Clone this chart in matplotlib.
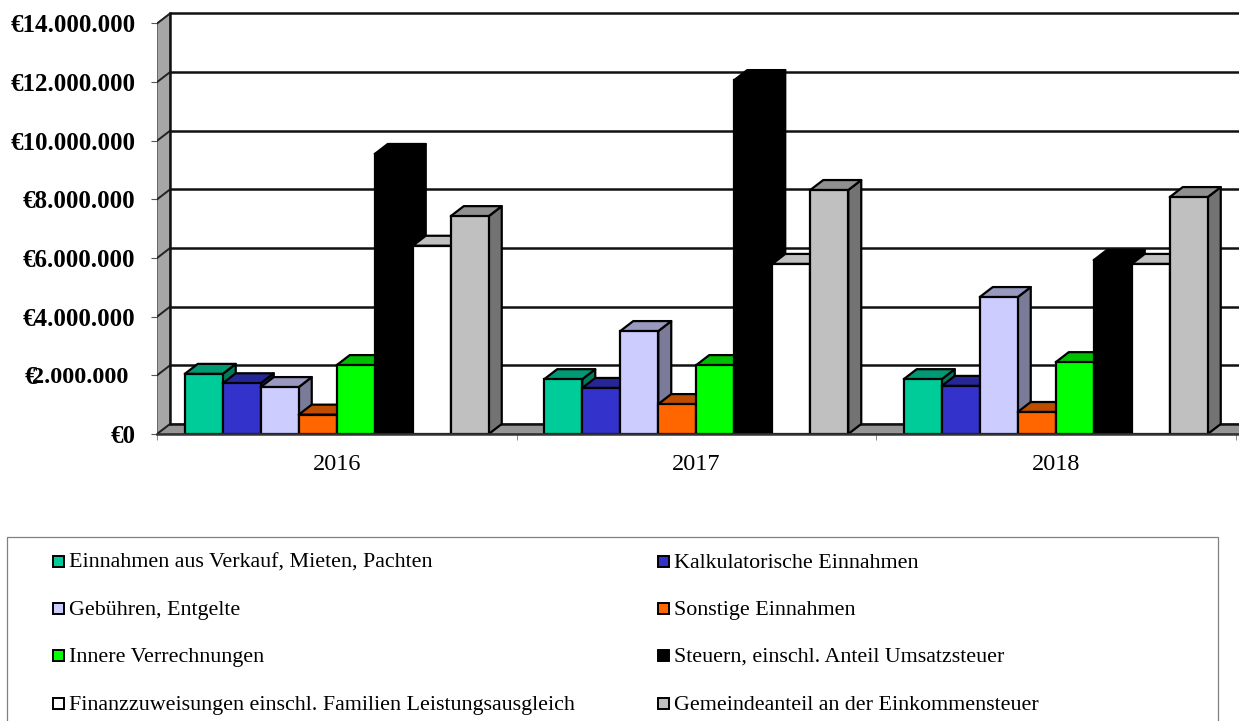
import numpy as np
import matplotlib
matplotlib.use("Agg")
import matplotlib.pyplot as plt
from matplotlib.patches import Polygon, Rectangle

plt.rcParams['font.family'] = ['Liberation Serif', 'DejaVu Serif']

years = ["2016", "2017", "2018"]
labels = ["Einnahmen aus Verkauf, Mieten, Pachten", "Kalkulatorische Einnahmen",
          "Gebühren, Entgelte", "Sonstige Einnahmen",
          "Innere Verrechnungen", "Steuern, einschl. Anteil Umsatzsteuer",
          "Finanzzuweisungen einschl. Familien Leistungsausgleich", "Gemeindeanteil an der Einkommensteuer"]

verkauf = [2050000, 1870000, 1870000]
kalkulatorisch = [1730000, 1570000, 1640000]
gebuehren = [1600000, 3510000, 4670000]
sonstige = [660000, 1020000, 750000]
verrechnungen = [2350000, 2350000, 2450000]
steuern = [9550000, 12070000, 5930000]
zuweisungen = [6420000, 5800000, 5800000]
gemeindeanteil = [7430000, 8320000, 8080000]
series = [verkauf, kalkulatorisch, gebuehren, sonstige, verrechnungen, steuern, zuweisungen, gemeindeanteil]

fronts = ["#00CC99", "#3333CC", "#CCCCFF", "#FF6600", "#00FF00", "#000000", "#FFFFFF", "#C0C0C0"]
tops = ["#009973", "#262699", "#9999BF", "#BF4D00", "#00BF00", "#000000", "#C0C0C0", "#909090"]
sides = ["#007A5C", "#1F1F7A", "#7A7A99", "#993D00", "#009900", "#000000", "#999999", "#737373"]
yticks = [0, 2000000, 4000000, 6000000, 8000000, 10000000, 12000000, 14000000]

W, H = 1239, 721
CAT_PX = 359.5
PX_PER_VAL = 410.5 / 14000000
BASE_Y = 434
LEFT_X = 157
TOP_Y = 5

dx = 13 / CAT_PX
dy = 10 / PX_PER_VAL
bar_w = 38 / CAT_PX
EDGE = 1.6


def euro(v):
    return "€" + f"{v:,.0f}".replace(",", ".")


fig = plt.figure(figsize=(W / 100, H / 100), dpi=100)
ax = fig.add_axes([LEFT_X / W, (H - BASE_Y) / H, (W - LEFT_X) / W, (BASE_Y - TOP_Y) / H])
ax.set_xlim(0, (W - LEFT_X) / CAT_PX)
ax.set_ylim(0, (BASE_Y - TOP_Y) / PX_PER_VAL)
for s in ax.spines.values():
    s.set_visible(False)

# walls of the fake 3d box
ax.add_patch(Polygon([(0, 0), (dx, dy), (dx, 14000000 + dy), (0, 14000000)], closed=True,
                     facecolor="#A6A6A6", edgecolor="#505050", lw=1.0, zorder=1))
ax.add_patch(Polygon([(0, 0), (4, 0), (4 + dx, dy), (dx, dy)], closed=True,
                     facecolor="#969696", edgecolor="#505050", lw=1.0, zorder=1))
for v in yticks:
    ax.plot([dx, 4], [v + dy, v + dy], color="#111111", lw=1.8, zorder=2, solid_capstyle="butt")
    ax.plot([0, dx], [v, v + dy], color="#222222", lw=1.4, zorder=2)
ax.plot([dx, dx], [dy, 14000000 + dy], color="#111111", lw=1.8, zorder=2)
ax.plot([0, 4], [0, 0], color="#333333", lw=1.8, zorder=900, clip_on=False)

# bars, left to right so every bar hides the side of the one before
z = 3
for c in range(len(years)):
    start = c + 0.5 - 4 * bar_w
    for i, vals in enumerate(series):
        x0 = start + i * bar_w
        x1 = x0 + bar_w
        v = vals[c]
        ax.add_patch(Polygon([(x1, 0), (x1 + dx, dy), (x1 + dx, v + dy), (x1, v)], closed=True,
                             facecolor=sides[i], edgecolor="black", lw=EDGE, zorder=z, joinstyle="round"))
        ax.add_patch(Polygon([(x0, v), (x0 + dx, v + dy), (x1 + dx, v + dy), (x1, v)], closed=True,
                             facecolor=tops[i], edgecolor="black", lw=EDGE, zorder=z, joinstyle="round"))
        ax.add_patch(Rectangle((x0, 0), bar_w, v, facecolor=fronts[i], edgecolor="black", lw=EDGE, zorder=z + 0.5))
        z += 1

ax.set_yticks(yticks)
tick_labels = [euro(v) for v in yticks]
tick_labels[1] = ""
ax.set_yticklabels(tick_labels, fontsize=18, fontweight="bold")
ax.tick_params(axis="y", length=4.5, width=0.8, color="#555555", pad=11)

# the 2.000.000 label sits on top of its euro sign in the original
ax.annotate("2.000.000", xy=(0, 2000000), xycoords=("axes fraction", "data"),
            xytext=(-20.3, 0), textcoords="offset points", ha="right", va="center_baseline",
            fontsize=17.5, fontweight="bold")
ax.annotate("€", xy=(0, 2000000), xycoords=("axes fraction", "data"),
            xytext=(-86.5, 0), textcoords="offset points", ha="right", va="center_baseline",
            fontsize=18, fontweight="bold")

ax.set_xticks([0, 1, 2, 3])
ax.set_xticklabels([])
ax.set_xticks([0.5, 1.5, 2.5], minor=True)
ax.set_xticklabels(years, minor=True, fontsize=17.5)
ax.tick_params(axis="x", which="major", length=4.5, width=0.6, color="#777777")
ax.tick_params(axis="x", which="minor", length=0, pad=14.5)

# legend box, drawn in pixel space because it runs off the bottom of the figure
leg = fig.add_axes([0, 0, 1, 1], facecolor="none")
leg.set_xlim(0, W)
leg.set_ylim(H, 0)
leg.axis("off")
leg.add_patch(Rectangle((7, 537), 1211, 190, facecolor="none", edgecolor="#808080", lw=0.9))
row_y = [561, 608, 655, 703]
col_x = [52, 657]
for i, label in enumerate(labels):
    mx = col_x[i % 2]
    my = row_y[i // 2]
    leg.add_patch(Rectangle((mx + 0.5, my - 5.5), 11, 11, facecolor=fronts[i], edgecolor="black", lw=1.4))
    leg.text(mx + 17, my, label, fontsize=15.85, va="center_baseline", ha="left", color="black")

fig.savefig("out.png", dpi=100)
